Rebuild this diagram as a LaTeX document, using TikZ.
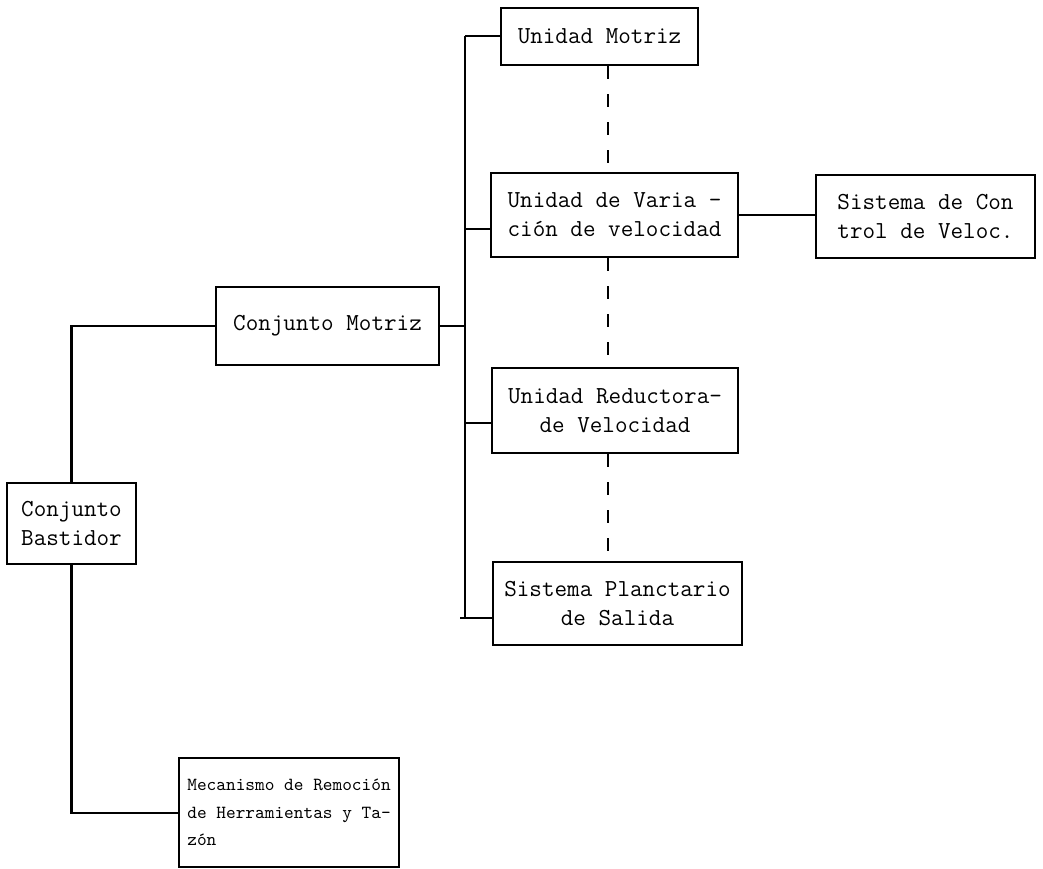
\documentclass[tikz,border=0pt]{standalone}
\usepackage{tikz}
\tikzset{caja/.style={draw, line width=1.2pt, inner sep=0pt, align=center,
    font=\ttfamily\fontsize{13.9}{16.4}\selectfont},
  linea/.style={line width=1.2pt},
  punteada/.style={line width=1.2pt, dash pattern=on 0.26cm off 0.3cm}}

\begin{document}
\begin{tikzpicture}[x=0.02cm, y=-0.02cm]
\useasboundingbox (0,0) rectangle (1043,868);
\node[caja, minimum width=3.94cm, minimum height=1.14cm] (um) at (599.5,36.5) {Unidad Motriz};
\node[caja, minimum width=4.94cm, minimum height=1.68cm] (uv) at (614.5,215) {Unidad de Varia -\\ción de velocidad};
\node[caja, minimum width=4.38cm, minimum height=1.66cm] (sc) at (925.5,216.5) {Sistema de Con\\trol de Veloc.};
\node[caja, minimum width=4.46cm, minimum height=1.56cm] (cm) at (327.5,326) {Conjunto Motriz};
\node[caja, minimum width=4.92cm, minimum height=1.70cm] (ur) at (615,410.5) {Unidad Reductora-\\de Velocidad};
\node[caja, minimum width=4.98cm, minimum height=1.66cm] (sp) at (617.5,603.5) {Sistema Planctario\\de Salida};
\node[caja, minimum width=2.58cm, minimum height=1.62cm] (cb) at (71.5,523.5) {Conjunto\\Bastidor};
\node[caja, minimum width=4.40cm, minimum height=2.18cm, anchor=north west, align=left,
  font=\ttfamily\fontsize{10.5}{15.6}\selectfont] (mr) at (178,757) {Mecanismo de Remoción\\de Herramientas y Ta-\\zón};
\coordinate (t1) at (465,36);
\coordinate (t2) at (465,229);
\coordinate (t3) at (465,423);
\coordinate (t4) at (465,618);
\coordinate (t0) at (460,618);
\coordinate (eje) at (608,0);
\draw[linea] (t1) -- (t4);
\draw[linea] (t1) -- (t1 -| um.west);
\draw[linea] (t2) -- (t2 -| uv.west);
\draw[linea] (t3) -- (t3 -| ur.west);
\draw[linea] (t0) -- (t0 -| sp.west);
\draw[linea] (cm.east) -- (cm.east -| t1);
\draw[linea] (uv.east) -- (uv.east -| sc.west);
\draw[linea] (cm.west) -| (cb.north);
\draw[linea] (cb.south) |- (mr.west);
\draw[punteada] (um.south -| eje) -- (uv.north -| eje);
\draw[punteada] (uv.south -| eje) -- (ur.north -| eje);
\draw[punteada] (ur.south -| eje) -- (sp.north -| eje);
\end{tikzpicture}
\end{document}
